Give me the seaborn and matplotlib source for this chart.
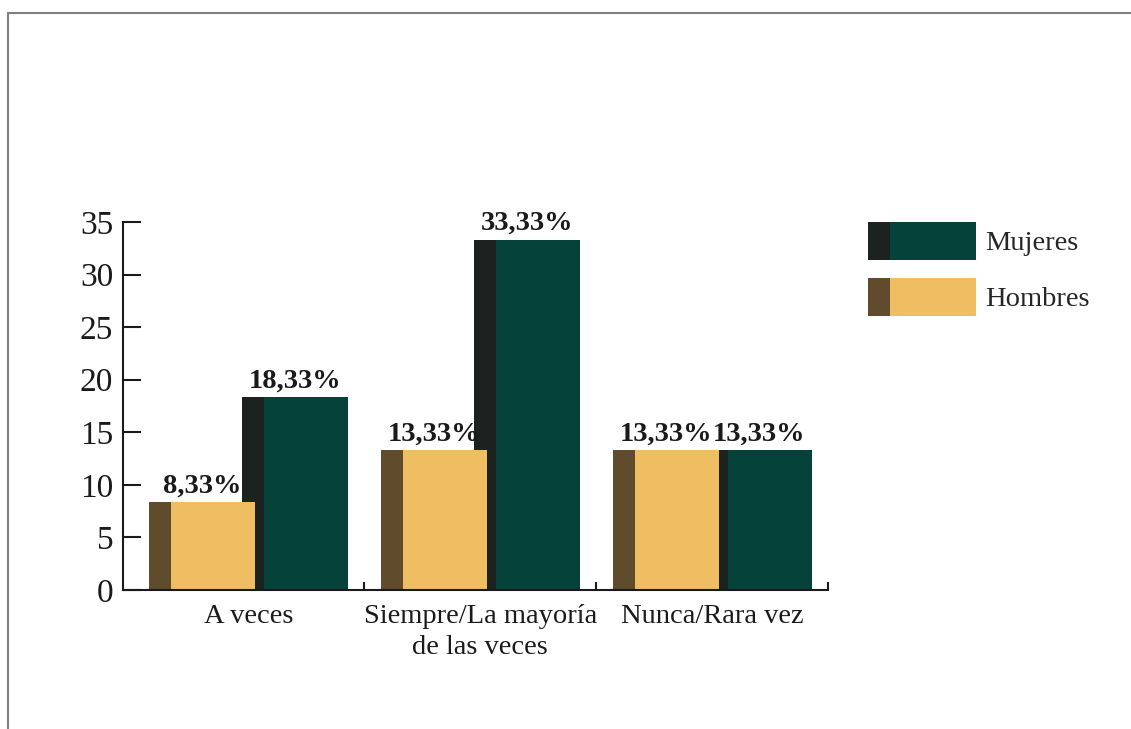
import numpy as np
import pandas as pd
import seaborn as sns
import matplotlib.pyplot as plt
from matplotlib.patches import Rectangle
from matplotlib.lines import Line2D
from matplotlib.legend_handler import HandlerBase

# data
categories = ["A veces", "Siempre/La mayoría\nde las veces", "Nunca/Rara vez"]
hombres = [8.33, 13.33, 13.33]
mujeres = [18.33, 33.33, 13.33]
series_names = ["Mujeres", "Hombres"]

# colours: (front face, dark side strip)
colors = {
    "Mujeres": ("#04423A", "#1C2220"),
    "Hombres": ("#F0BE62", "#614B2D"),
}
offsets = {"Mujeres": 0.2, "Hombres": -0.2}
bar_w = 0.457
strip_w = 0.095


class TwoToneHandler(HandlerBase):
    def __init__(self, face, side):
        super().__init__()
        self.face = face
        self.side = side

    def create_artists(self, legend, orig_handle, xdescent, ydescent,
                       width, height, fontsize, trans):
        r1 = Rectangle((-xdescent, -ydescent), width, height,
                       facecolor=self.face, edgecolor="none", transform=trans)
        r2 = Rectangle((-xdescent, -ydescent), width * 0.2, height,
                       facecolor=self.side, edgecolor="none", transform=trans)
        return [r1, r2]


def main():
    sns.set_style("white")
    plt.rcParams["font.family"] = ["Liberation Serif", "DejaVu Serif"]

    fig = plt.figure(figsize=(11.31, 7.29), dpi=100)
    ax = fig.add_axes([0.1088, 0.1907, 0.6236, 0.5048])

    df = pd.DataFrame({
        "idx": np.arange(len(categories)),
        "Hombres": hombres,
        "Mujeres": mujeres,
    })

    # Mujeres drawn first (behind), Hombres in front
    for name in ["Mujeres", "Hombres"]:
        face, side = colors[name]
        d = pd.DataFrame({
            "x": df["idx"] + offsets[name],
            "xs": df["idx"] + offsets[name] - bar_w / 2 + strip_w / 2,
            "y": df[name],
        })
        sns.barplot(data=d, x="x", y="y", native_scale=True, width=bar_w,
                    color=face, saturation=1, errorbar=None, linewidth=0, ax=ax)
        sns.barplot(data=d, x="xs", y="y", native_scale=True, width=strip_w,
                    color=side, saturation=1, errorbar=None, linewidth=0, ax=ax)
        for xi, yi in zip(d["x"], d["y"]):
            ax.annotate(f"{yi:.2f}".replace(".", ",") + "%", (xi, yi),
                        xytext=(0, 2.5), textcoords="offset points",
                        ha="center", va="bottom", fontsize=20.5,
                        fontweight="bold", color="#1a1a1a")

    ax.set_xlim(-0.54, 2.5)
    ax.set_ylim(0, 35)
    ax.set_yticks(range(0, 36, 5))
    ax.set_xticks(range(len(categories)))
    ax.set_xticklabels(categories, linespacing=1.3)
    ax.set_xticks([0.5, 1.5, 2.5], minor=True)
    ax.set_xlabel("")
    ax.set_ylabel("")

    for s in ["top", "right"]:
        ax.spines[s].set_visible(False)
    for s in ["left", "bottom"]:
        ax.spines[s].set_linewidth(1.5)
        ax.spines[s].set_color("#1a1a1a")

    ax.tick_params(axis="y", direction="in", length=13, width=1.5,
                   color="#1a1a1a", labelsize=24, labelcolor="#1a1a1a", pad=7,
                   left=True)
    ax.tick_params(axis="x", which="major", length=0, labelsize=20.5,
                   labelcolor="#1a1a1a", pad=10)
    ax.tick_params(axis="x", which="minor", direction="in", length=6,
                   width=1.5, color="#1a1a1a", bottom=True)

    # legend
    handles = [Rectangle((0, 0), 1, 1), Rectangle((0, 0), 1, 1)]
    hmap = {handles[0]: TwoToneHandler(*colors["Mujeres"]),
            handles[1]: TwoToneHandler(*colors["Hombres"])}
    fig.legend(handles, series_names, handler_map=hmap, loc="upper left",
               bbox_to_anchor=(0.7675, 0.6958), frameon=False, fontsize=20.5,
               handlelength=3.8, handleheight=1.67, handletextpad=0.32,
               labelspacing=0.65, borderpad=0, borderaxespad=0)

    # partial page frame
    fig.add_artist(Line2D([8 / 1131, 1], [1 - 13 / 729] * 2,
                          color="#808080", lw=1.5))
    fig.add_artist(Line2D([8 / 1131] * 2, [0, 1 - 13 / 729],
                          color="#808080", lw=1.5))

    fig.savefig("out.png", dpi=100)


if __name__ == "__main__":
    main()
